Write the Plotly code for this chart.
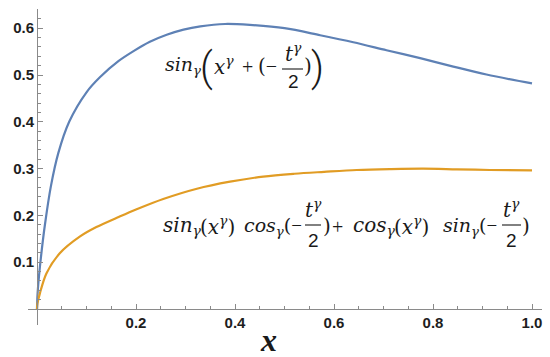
import plotly.graph_objects as go
import numpy as np

# ---- data ----
blue_x = [0, 0.001, 0.004, 0.0095, 0.016, 0.028, 0.043, 0.065, 0.10, 0.127, 0.165, 0.195, 0.228,
          0.262, 0.296, 0.33, 0.38, 0.43, 0.50, 0.572, 0.639, 0.706, 0.774, 0.841, 0.908, 1.0]
blue_y = [0, 0.03, 0.07, 0.125, 0.18, 0.262, 0.333, 0.400, 0.463, 0.495, 0.530, 0.551, 0.571,
          0.586, 0.597, 0.604, 0.609, 0.607, 0.600, 0.585, 0.570, 0.553, 0.536, 0.518, 0.501, 0.482]

orange_x = [0, 0.001, 0.006, 0.019, 0.046, 0.087, 0.12, 0.166, 0.20, 0.255, 0.323, 0.39, 0.457,
            0.52, 0.58, 0.646, 0.713, 0.78, 0.848, 0.915, 1.0]
orange_y = [0, 0.012, 0.034, 0.076, 0.119, 0.155, 0.175, 0.197, 0.2125, 0.235, 0.257, 0.272, 0.283,
            0.289, 0.293, 0.297, 0.299, 0.300, 0.2985, 0.297, 0.296]

x_ticks = [0.2, 0.4, 0.6, 0.8, 1.0]
x_ticktext = ["0.2", "0.4", "0.6", "0.8", "1.0"]
y_ticks = [0.1, 0.2, 0.3, 0.4, 0.5, 0.6]
y_ticktext = ["0.1", "0.2", "0.3", "0.4", "0.5", "0.6"]

BLUE = "#5E81B5"
ORANGE = "#E19C24"
AXIS = "#8a8a8a"

fig = go.Figure()
fig.add_trace(go.Scatter(x=blue_x, y=blue_y, mode="lines",
                         line=dict(color=BLUE, width=2.2, shape="spline", smoothing=0.9),
                         hoverinfo="skip", showlegend=False))
fig.add_trace(go.Scatter(x=orange_x, y=orange_y, mode="lines",
                         line=dict(color=ORANGE, width=2.2, shape="spline", smoothing=0.9),
                         hoverinfo="skip", showlegend=False))

# geometry: plot area 28..542 px (x), 9..325 px (y)
W, H = 550, 357
L, R, T, B = 28, 8, 9, 32
X0PX, XSCALE = 37, 495
Y0PX, YSCALE = 309, 468
PW, PH = W - L - R, H - T - B


def px2x(px):
    return (px - X0PX) / XSCALE


def py2y(py):
    return (Y0PX - py) / YSCALE


def px2p(px):
    return (px - L) / PW


def py2p(py):
    return (H - B - py) / PH


xr = [px2x(L), px2x(W - R)]
yr = [py2y(H - B), py2y(T)]

x_minor = [round(v, 3) for v in np.arange(0.05, 1.0001, 0.05) if round(v, 3) not in x_ticks]
y_minor = [round(v, 3) for v in np.arange(0.02, 0.641, 0.02)
           if min(abs(round(v, 3) - t) for t in y_ticks) > 1e-6]

tickfont = dict(family="Liberation Sans", size=15, color="#1e1e1e", weight="bold")

fig.update_layout(
    width=W, height=H,
    margin=dict(l=L, r=R, t=T, b=B, pad=0, autoexpand=False),
    paper_bgcolor="white", plot_bgcolor="white",
    xaxis=dict(range=xr, showgrid=False, zeroline=False, showline=True, linecolor=AXIS, linewidth=1,
               anchor="free", position=py2p(Y0PX), automargin=False,
               tickmode="array", tickvals=x_ticks, ticktext=x_ticktext,
               ticks="inside", ticklen=5, tickwidth=1, tickcolor=AXIS, tickfont=tickfont,
               minor=dict(tickmode="array", tickvals=x_minor, ticks="inside", ticklen=3,
                          tickwidth=1, tickcolor=AXIS)),
    yaxis=dict(range=yr, showgrid=False, zeroline=False, showline=True, linecolor=AXIS, linewidth=1,
               anchor="free", position=px2p(X0PX), automargin=False,
               tickmode="array", tickvals=y_ticks, ticktext=y_ticktext,
               ticks="inside", ticklen=5, tickwidth=1, tickcolor=AXIS, tickfont=tickfont,
               minor=dict(tickmode="array", tickvals=y_minor, ticks="inside", ticklen=3,
                          tickwidth=1, tickcolor=AXIS)),
)

SERIF = "DejaVu Serif"
SANS = "Liberation Sans"
TXT = "#1a1a1a"
FS = 20


def ann(text, px, py, size=FS, xanchor="left", family=SERIF, weight=None):
    f = dict(family=family, size=size, color=TXT)
    if weight:
        f["weight"] = weight
    fig.add_annotation(text=text, x=px2p(px), y=py2p(py), xref="paper", yref="paper",
                       xanchor=xanchor, yanchor="middle", showarrow=False, font=f)


def bar(px0, px1, py):
    fig.add_shape(type="line", x0=px2p(px0), x1=px2p(px1), y0=py2p(py), y1=py2p(py),
                  xref="paper", yref="paper", line=dict(color=TXT, width=1.1))


g = "<i>γ</i>"
sin_g = "<i>sin</i><sub>" + g + "</sub>"
cos_g = "<i>cos</i><sub>" + g + "</sub>"
x_g = "<i>x</i><sup>" + g + "</sup>"
t_g = "<i>t</i><sup>" + g + "</sup>"
open_minus = "(<span style='font-family:Liberation Serif'>−</span>"

# top formula
ann(sin_g, 163, 66, size=19)
ann("(", 206, 67, size=40, xanchor="center", family="Roboto", weight=300)
ann(x_g, 212, 66)
ann("+", 247, 67, xanchor="center", family="Liberation Serif")
ann(open_minus, 256, 66)
ann(t_g, 293, 53, xanchor="center")
bar(282, 303, 69)
ann("2", 293, 81, size=19, xanchor="center", family=SANS)
ann(")", 302, 66)
ann(")", 317, 67, size=40, xanchor="center", family="Roboto", weight=300)

# bottom formula
ann(sin_g, 161, 226)
ann("(" + x_g + ")", 198, 226)
ann(cos_g + open_minus, 242, 226, size=19)
ann(t_g, 313, 209, xanchor="center")
bar(305, 321, 225)
ann("2", 313, 240, size=19, xanchor="center", family=SANS)
ann(")", 321, 226)
ann("+", 337, 227, xanchor="center", family="Liberation Serif")
ann(cos_g, 351, 226)
ann("(" + x_g + ")", 392, 226)
ann(sin_g + open_minus, 441, 226, size=19)
ann(t_g, 511, 209, xanchor="center")
bar(502, 521, 225)
ann("2", 511, 240, size=19, xanchor="center", family=SANS)
ann(")", 520, 226)

# axis label
ann("<b><i>x</i></b>", 268, 340, size=32, xanchor="center", family="Liberation Serif")

fig.write_html("out.html", post_script="document.body.style.margin='0';",
               config={"displayModeBar": False})
